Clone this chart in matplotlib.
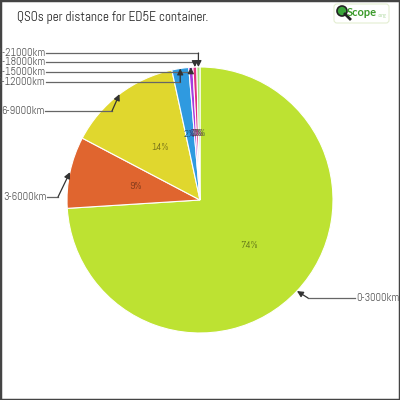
import matplotlib
matplotlib.use("Agg")
import matplotlib.pyplot as plt
import numpy as np
from matplotlib.colors import to_rgb
from matplotlib.patches import FancyBboxPatch, Circle

plt.rcParams["font.family"] = ["Abel", "DejaVu Sans"]

# data (percent of QSOs per distance band)
bands = ["0-3000km", "3-6000km", "6-9000km", "9-12000km",
         "12-15000km", "15-18000km", "18-21000km"]
shares = [74.0, 8.7, 13.9, 2.05, 0.5, 0.47, 0.38]
colors = ["#bde232", "#e0652f", "#e0d72e", "#2f9ae0",
          "#a43ce0", "#e0307f", "#a8e07c"]

W = H = 400
CX, CY, R = 200, 200, 133


def py(y):
    # pixel row (from top) -> data y
    return H - y


fig = plt.figure(figsize=(4, 4), dpi=100)
ax = fig.add_axes([0, 0, 1, 1])
ax.set_xticks([])
ax.set_yticks([])
for s in ax.spines.values():
    s.set_color("#444444")
    s.set_linewidth(2.5)

wedges, _, autotexts = ax.pie(
    shares, colors=colors, startangle=90, counterclock=False,
    center=(CX, py(CY)), radius=R, autopct="%1.0f%%", pctdistance=0.5,
    wedgeprops=dict(edgecolor="white", linewidth=0.8),
    textprops=dict(fontsize=7.5), frame=True,
)
ax.set_xlim(0, W)
ax.set_ylim(0, H)
ax.set_aspect("equal")
for t, c in zip(autotexts, colors):
    t.set_color(tuple(v * 0.5 for v in to_rgb(c)))

# leader layout: label row (px), text anchor x, elbow x (None = straight down/up)
layout = {
    "0-3000km": (298, 356, 308, "left"),
    "3-6000km": (197, 46, 58, "right"),
    "6-9000km": (111, 44, 112, "right"),
    "9-12000km": (82, 45, None, "right"),
    "12-15000km": (72, 45, None, "right"),
    "15-18000km": (62, 45, None, "right"),
    "18-21000km": (53, 45, None, "right"),
}

for w, name in zip(wedges, bands):
    ang = np.deg2rad((w.theta1 + w.theta2) / 2)
    tip = (CX + R * np.cos(ang), py(CY) + R * np.sin(ang))
    ly, tx, ex, ha = layout[name]
    if ex is None:
        ex = tip[0]
    elbow = (ex, py(ly))
    x0 = tx + 1 if ha == "right" else tx - 1
    ax.plot([x0, ex], [py(ly), py(ly)], color="#666666", lw=0.9)
    ax.annotate("", xy=tip, xytext=elbow,
                arrowprops=dict(arrowstyle="-|>", color="#333333", lw=0.9,
                                mutation_scale=9, shrinkA=0, shrinkB=0))
    ax.text(tx, py(ly), name, ha=ha, va="center", fontsize=7.8,
            color="#555555", clip_on=True)

ax.text(17, py(17), "QSOs per distance for ED5E container.", ha="left",
        va="center", fontsize=9.5, color="#222222")

# logo
ax.add_patch(FancyBboxPatch((334, py(23)), 55, 19,
                            boxstyle="round,pad=0,rounding_size=3",
                            facecolor="white", edgecolor="#e4eed2", lw=0.8))
ax.plot([345, 350], [py(14), py(19)], color="#222222", lw=2)
ax.add_patch(Circle((342, py(11)), 5, facecolor="#3aa53a",
                    edgecolor="#222222", lw=1.2))
ax.text(347, py(12), "Scope", ha="left", va="center", fontsize=8,
        color="#3a9a2a", fontweight="bold", family=["Lato", "DejaVu Sans"])
ax.text(378, py(15), ".org", ha="left", va="center", fontsize=4.5,
        color="#9acf8a")

fig.savefig("out.png", dpi=100)
